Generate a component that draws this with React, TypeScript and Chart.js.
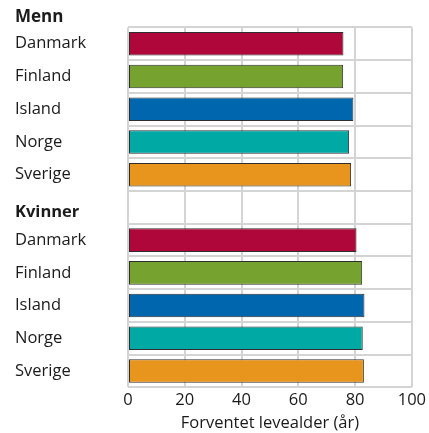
import React, { useEffect, useRef } from "react";
import { Chart, registerables } from "chart.js";

Chart.register(...registerables);

const countries = ["Danmark", "Finland", "Island", "Norge", "Sverige"];
const menn = [75.9, 75.8, 79.4, 77.9, 78.6];
const kvinner = [80.5, 82.5, 83.3, 82.7, 83.1];
const countryColors = ["#B0073A", "#76A22F", "#0066AE", "#00A9A4", "#E8951D"];
const xTicks = [0, 20, 40, 60, 80, 100];
const groupTitle1 = "Menn";
const groupTitle2 = "Kvinner";
const axisTitle = "Forventet levealder (år)";

export default function App() {
  const ref = useRef<HTMLCanvasElement | null>(null);
  useEffect(() => {
    if (!ref.current) return;
    const labels: any[] = [...countries, ["", groupTitle2], ...countries];
    const values = [...menn, null, ...kvinner];
    const colors = [...countryColors, "transparent", ...countryColors];
    const font = "'Open Sans', 'Noto Sans', sans-serif";
    const chart = new Chart(ref.current, {
      type: "bar",
      data: {
        labels,
        datasets: [
          {
            data: values as any,
            backgroundColor: colors,
            borderColor: "#2e2e2e",
            borderWidth: 1,
            borderSkipped: false,
            categoryPercentage: 1,
            barPercentage: 0.72,
          },
        ],
      },
      options: {
        indexAxis: "y",
        animation: false,
        responsive: false,
        layout: { padding: { left: 15, right: 2, top: 0, bottom: 0 } },
        plugins: {
          legend: { display: false },
          tooltip: { enabled: false },
          title: {
            display: true,
            text: groupTitle1,
            align: "start",
            color: "#1a1a1a",
            font: { family: font, size: 17, weight: "bold" },
            padding: { top: 7, bottom: 0 },
          },
        },
        scales: {
          x: {
            min: 0,
            max: 100,
            afterBuildTicks: (s: any) => {
              s.ticks = xTicks.map((v) => ({ value: v }));
            },
            grid: { color: "#d4d4d4", lineWidth: 2, drawTicks: false },
            border: { display: false },
            ticks: {
              color: "#1a1a1a",
              font: { family: font, size: 16.5 },
              padding: 3,
            },
            title: {
              display: true,
              text: axisTitle,
              color: "#1a1a1a",
              font: { family: font, size: 16.5 },
              padding: { top: 0, bottom: 0 },
            },
          },
          y: {
            offset: true,
            grid: { color: "#d4d4d4", lineWidth: 2, drawTicks: false, offset: true },
            border: { display: false },
            afterFit: (s: any) => {
              s.width = 113;
            },
            ticks: {
              crossAlign: "far",
              padding: 4,
              color: "#1a1a1a",
              font: (ctx: any) =>
                ctx.index === 5
                  ? { family: font, size: 16.5, weight: "bold", lineHeight: 0.6 }
                  : { family: font, size: 16.5, weight: "normal" },
            },
          },
        },
      },
    });
    return () => chart.destroy();
  }, []);
  return (
    <div style={{ position: "fixed", left: 0, top: 0, width: 429, height: 433, background: "#fff" }}>
      <canvas ref={ref} width={429} height={433} style={{ display: "block" }} />
    </div>
  );
}
